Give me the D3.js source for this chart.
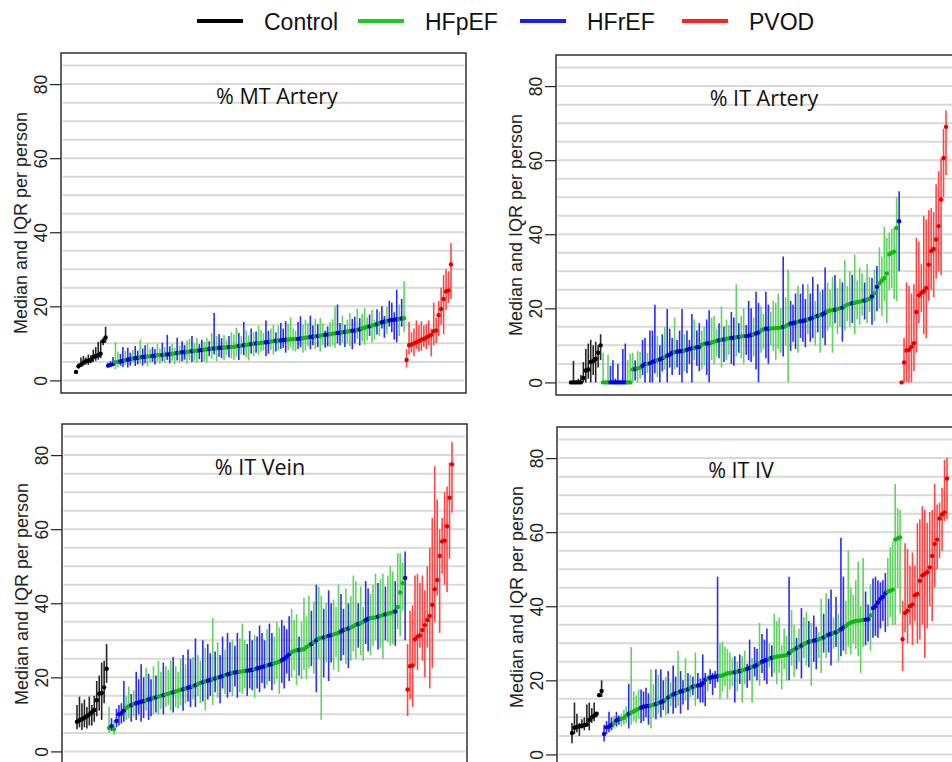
<!DOCTYPE html>
<html>
<head>
<meta charset="utf-8">
<script src="https://cdn.jsdelivr.net/npm/d3@7"></script>
<style>
    body { margin: 0; background: #fff; }
    svg { display: block; }
</style>
</head>
<body>
<div id="chart"></div>
<script>
// group codes: C = Control, p = HFpEF, r = HFrEF, V = PVOD
var groupNames = ["Control", "HFpEF", "HFrEF", "PVOD"];
var groupCodes = ["C", "p", "r", "V"];
var yTicks = [0, 20, 40, 60, 80];

// ---- % MT Artery ----
var mtArteryGroups = "CCCCCCCCCCCCC" + [
    "rrrpprrprr", "prrprrpprr", "pprprrpprp", "rrpprpprrp", "prprprrppr", "ppprprpprp",
    "rppprrpprp", "rrrpppprrp", "pprrprpprr", "ppprrprppr", "rprppprppr", "prrprrrrpr", "p"
].join("") + "VVVVVVVVVVVVVVVVVVV";
var mtArteryMed = [
    2.3, 3.8, 4.2, 4.8, 5.2, 5.3, 5.5, 6.3, 6.6, 6.8, 7.2, 10.6, 11.6,
    4.0, 4.2, 4.4, 4.9, 5.0, 5.1, 5.3, 5.5, 5.6, 5.8,
    5.9, 6.0, 6.1, 6.2, 6.3, 6.4, 6.5, 6.5, 6.6, 6.7,
    6.8, 6.8, 6.9, 7.0, 7.0, 7.1, 7.2, 7.3, 7.4, 7.5,
    7.6, 7.6, 7.7, 7.8, 7.9, 8.0, 8.0, 8.1, 8.2, 8.3,
    8.4, 8.5, 8.6, 8.6, 8.7, 8.8, 8.8, 8.9, 8.9, 9.0,
    9.0, 9.1, 9.2, 9.3, 9.4, 9.5, 9.6, 9.7, 9.8, 9.9,
    10.0, 10.0, 10.1, 10.2, 10.3, 10.4, 10.5, 10.6, 10.7, 10.8,
    10.8, 10.9, 11.0, 11.0, 11.1, 11.1, 11.2, 11.2, 11.3, 11.4,
    11.5, 11.6, 11.7, 11.8, 11.9, 12.0, 12.1, 12.2, 12.3, 12.4,
    12.5, 12.6, 12.7, 12.8, 12.9, 13.0, 13.1, 13.2, 13.3, 13.4,
    13.5, 13.6, 13.8, 14.0, 14.2, 14.4, 14.6, 14.8, 15.0, 15.2,
    15.5, 15.7, 15.9, 16.0, 16.2, 16.3, 16.4, 16.5, 16.6, 16.7,
    16.8,
    5.5, 9.5, 9.7, 10.0, 10.3, 10.6, 11.0, 11.2, 11.6, 12.0, 12.3, 13.3, 13.5, 17.6, 19.3, 22.0, 24.0, 24.3, 31.3
];
var mtArteryQ1 = [
    2.0, 3.2, 3.6, 4.0, 4.3, 4.2, 4.6, 5.0, 5.3, 5.6, 6.0, 9.5, 10.2,
    3.4, 3.8, 3.9, 3.0, 3.5, 4.0, 3.6, 4.2, 3.5, 4.0,
    4.8, 3.9, 4.3, 4.5, 4.0, 4.6, 3.8, 4.8, 5.0, 4.3,
    5.0, 4.5, 5.2, 4.8, 5.5, 4.6, 5.3, 4.4, 5.4, 4.8,
    5.2, 5.6, 4.5, 5.5, 5.0, 5.3, 4.8, 5.7, 5.0, 5.2,
    4.8, 6.5, 5.8, 7.0, 5.2, 6.4, 6.0, 5.5, 6.8, 6.2,
    6.0, 5.6, 6.4, 5.5, 7.0, 6.8, 6.2, 5.4, 7.2, 6.5,
    7.5, 6.8, 7.8, 8.0, 6.5, 7.2, 8.3, 7.0, 7.8, 8.0,
    8.5, 8.8, 7.5, 8.2, 9.0, 8.0, 7.8, 8.5, 9.0, 7.5,
    8.0, 9.2, 8.4, 9.5, 8.5, 9.0, 7.8, 9.5, 8.8, 9.2,
    9.0, 9.4, 8.8, 10.0, 9.5, 10.2, 9.0, 10.0, 9.2, 8.4,
    10.0, 11.2, 9.4, 10.5, 9.6, 10.8, 12.0, 10.2, 11.0, 12.4,
    12.0, 14.0, 11.5, 12.6, 14.5, 13.0, 11.0, 10.3, 12.0, 14.5,
    13.0,
    3.5, 7.0, 7.5, 6.5, 8.5, 7.8, 8.0, 9.0, 8.5, 9.5, 6.5, 9.5, 10.0, 12.0, 15.0, 12.5, 19.0, 21.0, 22.0
];
var mtArteryQ3 = [
    2.8, 4.6, 6.2, 6.6, 6.2, 7.0, 6.8, 8.3, 9.0, 10.4, 10.8, 11.5, 14.5,
    4.8, 5.2, 6.3, 10.4, 7.8, 7.2, 9.0, 8.0, 8.8, 7.5,
    8.2, 9.3, 8.0, 11.0, 8.6, 9.5, 10.0, 8.4, 9.0, 8.5,
    9.8, 8.6, 10.2, 9.0, 12.3, 9.2, 9.8, 8.8, 11.5, 9.4,
    10.6, 9.6, 10.8, 11.3, 12.0, 10.0, 11.5, 9.8, 11.0, 10.4,
    11.5, 10.6, 12.8, 18.2, 12.0, 12.5, 11.4, 12.2, 11.0, 12.0,
    13.0, 12.4, 14.2, 12.8, 12.0, 15.8, 13.5, 12.2, 14.0, 13.0,
    13.2, 14.8, 13.6, 12.8, 16.2, 13.4, 14.0, 15.0, 13.0, 14.8,
    15.5, 14.0, 16.0, 15.2, 17.0, 14.0, 13.5, 15.8, 17.3, 15.0,
    16.4, 15.5, 17.5, 14.8, 16.6, 15.2, 16.8, 15.4, 13.5, 14.6,
    15.8, 16.5, 20.0, 20.5, 15.5, 17.5, 15.0, 16.4, 18.2, 16.6,
    17.2, 19.4, 16.8, 18.0, 19.6, 17.0, 17.8, 19.0, 16.4, 19.2,
    18.6, 20.0, 17.4, 19.8, 21.5, 21.0, 18.4, 24.5, 20.5, 22.0,
    26.8,
    8.5, 15.8, 13.0, 14.0, 16.2, 15.0, 16.0, 14.8, 15.2, 16.2, 14.0, 21.0, 17.0, 21.5, 25.0, 28.5, 30.0, 29.5, 37.0
];

// ---- % IT Artery ----
var itArteryGroups = "CCCCCCCCCCCCC" + [
    "ppprrrrrrr", "ppprpprrpr", "rrprrprrrp", "rrrprrrprr", "pprrppprpr", "pprrprpprr",
    "rprrpprrpp", "ppprpprrrp", "rrrprrprpr", "rppprpprpp", "prpppprppr", "prpppppppp", "r"
].join("") + "VVVVVVVVVVVVVVVVVVV";
var itArteryMed = [
    0, 0, 0, 0, 0, 1.2, 3.2, 3.5, 5.5, 5.8, 6.3, 8.0, 10.0,
    0, 0, 0, 0, 0, 0, 0, 0, 0, 0,
    0, 0, 3.5, 3.6, 3.8, 4.0, 4.5, 5.0, 5.0, 5.2,
    5.5, 5.8, 6.0, 6.2, 6.5, 6.8, 7.2, 7.5, 8.0, 8.2,
    8.3, 8.4, 8.5, 8.6, 8.8, 9.0, 9.2, 9.3, 9.5, 9.6,
    10.2, 10.4, 10.5, 10.6, 10.8, 11.0, 11.2, 11.4, 11.5, 11.6,
    11.8, 11.9, 12.0, 12.1, 12.2, 12.3, 12.4, 12.5, 12.5, 12.6,
    12.8, 13.0, 13.2, 13.5, 14.0, 14.3, 14.5, 14.5, 14.6, 14.6,
    14.7, 14.7, 14.8, 15.0, 15.2, 15.6, 15.9, 16.0, 16.2, 16.4,
    16.5, 16.6, 16.8, 17.0, 17.2, 17.5, 17.8, 18.0, 18.2, 18.4,
    18.8, 19.2, 19.4, 19.5, 19.6, 19.8, 20.0, 20.2, 20.6, 21.0,
    21.2, 21.4, 21.5, 21.7, 21.8, 22.0, 22.1, 22.3, 22.6, 23.2,
    24.1, 25.8, 26.8, 27.5, 28.2, 29.4, 34.6, 35.0, 35.3, 41.7,
    43.5,
    0, 5.4, 8.6, 8.8, 9.6, 10.6, 19.0, 23.5, 24.2, 24.6, 25.5, 31.8, 35.5, 36.0, 38.6, 42.2, 49.4, 60.6, 69.0
];
var itArteryQ1 = [
    0, 0, 0, 0, 0, 0, 0, 1.0, 0, 2.0, 0, 4.0, 6.0,
    0, 0, 0, 0, 0, 0, 0, 0, 0, 0,
    0, 0, 0, 0.5, 0, 1.0, 2.0, 0, 2.5, 0,
    0, 2.5, 1.5, 0, 3.0, 3.5, 0, 4.0, 2.0, 3.5,
    4.0, 2.0, 0, 3.0, 2.5, 5.0, 0, 6.0, 4.5, 3.0,
    3.5, 4.5, 2.0, 0, 6.0, 5.0, 7.0, 6.5, 4.0, 5.5,
    6.0, 7.5, 5.0, 4.5, 7.0, 8.0, 6.5, 5.0, 7.5, 6.0,
    5.5, 7.0, 3.5, 0, 8.0, 9.0, 6.5, 5.0, 10.0, 8.5,
    6.0, 9.0, 8.0, 7.0, 10.0, 0, 8.5, 11.0, 9.0, 8.0,
    12.0, 11.0, 9.5, 13.0, 11.0, 12.0, 10.0, 13.5, 8.0, 12.0,
    10.0, 14.0, 15.0, 8.0, 16.0, 13.0, 15.0, 11.0, 14.0, 16.5,
    15.0, 16.0, 13.0, 17.0, 15.5, 18.0, 17.0, 16.0, 19.0, 15.6,
    16.5, 19.2, 20.0, 18.0, 22.0, 16.0, 25.0, 25.5, 22.5, 22.0,
    30.0,
    0, 0, 0, 0, 0, 3.0, 8.0, 16.0, 19.0, 13.0, 12.0, 22.0, 25.0, 23.0, 28.0, 30.0, 29.0, 50.0, 56.0
];
var itArteryQ3 = [
    0, 5.8, 0.5, 1.0, 2.0, 5.5, 9.0, 10.5, 11.5, 10.0, 11.0, 10.0, 13.0,
    8.0, 0.5, 7.5, 4.5, 6.0, 1.0, 5.0, 0.5, 9.0, 10.5,
    6.0, 7.8, 8.0, 6.0, 8.5, 8.2, 11.5, 12.0, 8.0, 14.0,
    14.0, 21.0, 12.5, 10.0, 13.0, 15.0, 19.8, 14.5, 12.0, 17.5,
    11.5, 14.0, 19.8, 13.0, 14.0, 11.5, 18.5, 17.0, 14.0, 16.0,
    14.0, 15.0, 17.0, 19.5, 17.5, 18.0, 14.5, 16.0, 20.5, 15.0,
    17.0, 15.5, 19.0, 17.5, 26.5, 16.0, 18.0, 20.0, 15.5, 22.0,
    20.0, 17.5, 24.5, 21.5, 20.5, 18.5, 24.5, 21.0, 19.0, 22.0,
    21.5, 24.0, 20.0, 34.0, 23.0, 30.5, 22.0, 21.0, 24.0, 26.0,
    24.0, 26.5, 22.5, 26.5, 24.0, 28.5, 22.0, 26.5, 24.5, 25.0,
    31.0, 27.0, 25.0, 28.5, 29.0, 25.5, 28.0, 27.0, 33.0, 26.0,
    30.0, 29.0, 34.5, 27.5, 31.0, 29.5, 27.0, 32.0, 28.5, 28.2,
    30.5, 31.4, 36.5, 34.0, 42.0, 39.0, 40.5, 41.5, 42.0, 50.0,
    51.6,
    0, 12.0, 27.0, 26.0, 24.0, 26.5, 39.0, 38.0, 32.0, 45.0, 44.0, 46.5, 47.0, 46.0, 53.5, 57.0, 60.5, 68.5, 73.5
];

// ---- % IT Vein ----
var itVeinGroups = "CCCCCCCCCCCCC" + [
    "prprrrrppr", "prrrrprrpr", "pprppprppp", "rprrprpprp", "rrprprrprr", "prrppprrrp",
    "rrrrprrppp", "rrrrppprpp", "pprprpprpr", "rppprrprpp", "prpprrpppr", "pprppprppp", "r"
].join("") + "VVVVVVVVVVVVVVVVVVV";
var itVeinMed = [
    8.0, 8.4, 8.7, 9.1, 9.5, 10.0, 10.5, 11.2, 13.8, 15.6, 15.8, 17.3, 22.3,
    6.3, 6.8, 6.0, 8.2, 10.0, 10.3, 11.0, 11.8, 12.2, 12.5,
    12.8, 13.0, 13.2, 13.4, 13.6, 13.8, 14.0, 14.2, 14.4, 14.6,
    14.8, 15.0, 15.2, 15.4, 15.6, 15.8, 16.0, 16.2, 16.4, 16.6,
    16.8, 17.0, 17.2, 17.4, 17.6, 17.9, 18.2, 18.5, 18.7, 18.9,
    19.1, 19.3, 19.5, 19.7, 19.9, 20.1, 20.4, 20.6, 20.8, 21.0,
    21.2, 21.3, 21.4, 21.5, 21.6, 21.7, 21.8, 21.9, 22.0, 22.2,
    22.4, 22.6, 22.8, 23.0, 23.2, 23.4, 23.6, 23.8, 24.0, 24.2,
    24.6, 25.0, 25.6, 26.2, 26.8, 27.1, 27.3, 27.4, 27.5, 27.6,
    28.2, 28.6, 29.0, 29.5, 30.0, 30.4, 30.6, 30.8, 31.0, 31.2,
    31.4, 31.6, 31.8, 32.0, 32.4, 32.8, 33.0, 33.2, 33.5, 33.8,
    34.2, 34.4, 34.6, 35.0, 35.4, 35.8, 36.0, 36.1, 36.2, 36.4,
    36.6, 36.8, 37.0, 37.2, 37.4, 37.6, 37.8, 39.0, 42.9, 45.4,
    46.8,
    16.7, 23.0, 23.2, 30.3, 31.0, 31.3, 32.8, 34.1, 35.5, 36.6, 39.6, 43.8, 46.3, 52.8, 56.7, 56.9, 60.8, 68.5, 77.5
];
var itVeinQ1 = [
    6.0, 6.5, 5.8, 6.5, 6.2, 7.0, 7.0, 8.0, 9.5, 11.0, 8.5, 13.0, 18.5,
    5.0, 5.5, 4.5, 6.5, 7.0, 7.5, 8.0, 8.5, 9.0, 8.0,
    9.5, 8.5, 10.0, 8.0, 9.0, 11.0, 8.5, 9.5, 10.0, 10.5,
    10.0, 11.5, 10.0, 12.0, 12.5, 11.0, 10.5, 12.0, 11.5, 12.5,
    11.0, 13.0, 13.5, 12.0, 14.0, 12.0, 15.0, 13.0, 13.5, 11.0,
    14.0, 15.0, 12.5, 16.0, 14.5, 13.0, 17.0, 15.5, 14.5, 16.0,
    15.0, 17.5, 14.5, 16.0, 15.5, 17.0, 15.0, 17.0, 16.5, 14.5,
    17.0, 16.0, 18.5, 17.0, 18.0, 19.0, 16.5, 18.0, 19.5, 15.5,
    18.5, 17.0, 21.0, 19.0, 20.0, 22.0, 18.0, 20.5, 19.5, 22.0,
    19.5, 22.5, 23.0, 21.0, 16.0, 25.0, 8.5, 20.0, 24.0, 19.0,
    24.0, 22.0, 25.5, 21.5, 24.5, 26.0, 23.5, 22.5, 24.5, 27.0,
    25.0, 28.0, 26.0, 24.5, 29.0, 27.0, 26.0, 28.5, 30.0, 27.5,
    28.0, 25.0, 30.0, 29.5, 28.5, 29.0, 28.5, 33.0, 31.0, 38.0,
    30.0,
    9.5, 14.0, 12.0, 23.0, 22.0, 28.0, 24.5, 20.0, 28.0, 17.0, 22.5, 35.0, 42.0, 32.0, 48.0, 45.0, 43.0, 52.0, 64.5
];
var itVeinQ3 = [
    12.5, 14.8, 13.0, 14.0, 12.0, 14.8, 12.5, 15.0, 19.0, 20.5, 24.0, 24.5, 29.0,
    12.0, 9.0, 8.5, 11.5, 12.5, 13.0, 19.0, 15.0, 17.5, 15.5,
    16.5, 21.5, 19.5, 23.5, 20.0, 22.5, 21.0, 19.5, 23.0, 20.5,
    24.5, 21.5, 24.0, 23.0, 22.0, 24.5, 25.5, 23.0, 21.5, 25.0,
    26.0, 23.5, 27.5, 25.0, 25.5, 30.5, 26.0, 24.5, 30.0, 28.0,
    29.0, 26.5, 36.0, 27.0, 29.5, 26.0, 31.0, 27.5, 32.0, 29.5,
    30.0, 28.5, 32.0, 30.5, 34.5, 30.0, 29.0, 32.5, 30.0, 31.5,
    31.0, 34.0, 32.0, 30.0, 33.0, 34.5, 32.0, 31.0, 35.0, 33.5,
    35.5, 34.0, 33.0, 36.5, 38.5, 35.5, 37.0, 31.0, 35.0, 41.5,
    36.5, 42.0, 38.0, 40.5, 45.0, 44.5, 42.0, 38.5, 40.0, 43.5,
    40.0, 41.0, 39.0, 45.0, 42.5, 38.5, 44.0, 40.0, 42.0, 47.5,
    46.0, 40.0, 44.5, 39.0, 46.0, 44.0, 42.5, 45.0, 48.0, 45.5,
    46.5, 48.0, 44.5, 47.5, 50.0, 48.5, 46.0, 53.5, 53.5, 51.0,
    54.0,
    29.0, 38.0, 39.5, 47.5, 48.0, 45.5, 47.5, 43.5, 50.0, 55.0, 63.0, 77.0, 68.0, 60.0, 63.0, 70.0, 71.5, 78.0, 83.5
];

// ---- % IT IV ----
var itIVGroups = "CCCCCCCCCCCCC" + [
    "rrrrprrppp", "rpppprrrrp", "prprrprprr", "prrprprprr", "rrprrrrppp", "ppprprpprr",
    "prrprrrprp", "ppppprpprp", "rpprprrppr", "prrprprrpp", "pppppprrpr", "rrrrrppppp", "p"
].join("") + "VVVVVVVVVVVVVVVVVVV";
var itIVMed = [
    5.8, 7.2, 7.4, 7.6, 7.7, 7.9, 8.1, 9.3, 10.0, 10.5, 11.0, 16.0, 17.1,
    5.5, 7.3, 7.5, 8.0, 8.5, 9.2, 9.5, 9.6, 9.8, 10.5,
    11.0, 11.3, 11.6, 12.0, 12.3, 12.6, 12.9, 13.0, 13.1, 13.2,
    13.4, 13.6, 13.9, 14.1, 14.4, 14.8, 15.4, 15.8, 16.2, 16.5,
    16.7, 17.0, 17.2, 17.4, 17.6, 18.0, 18.3, 18.5, 18.6, 18.7,
    19.2, 20.2, 20.5, 20.7, 20.9, 21.0, 21.1, 21.2, 21.3, 21.6,
    21.9, 22.0, 22.1, 22.2, 22.3, 22.5, 22.7, 22.9, 23.1, 23.4,
    23.6, 23.8, 24.2, 24.6, 25.0, 25.3, 25.6, 25.9, 26.1, 26.3,
    26.4, 26.5, 26.6, 26.7, 26.8, 27.4, 27.9, 28.3, 28.7, 29.0,
    29.4, 29.8, 30.1, 30.4, 30.6, 30.7, 30.9, 31.1, 31.3, 31.6,
    32.0, 32.3, 32.6, 32.8, 33.0, 33.3, 33.8, 34.3, 34.7, 35.2,
    35.6, 35.8, 36.0, 36.1, 36.2, 36.3, 36.4, 36.5, 37.5, 39.5,
    40.0, 41.0, 42.0, 42.5, 43.5, 44.0, 44.2, 44.5, 58.0, 58.3,
    58.6,
    31.1, 38.2, 38.8, 40.0, 40.5, 43.0, 43.3, 46.9, 48.3, 48.8, 49.2, 50.5, 53.6, 56.8, 58.0, 63.7, 64.8, 65.3, 74.5
];
var itIVQ1 = [
    3.0, 5.5, 6.0, 5.0, 7.0, 6.5, 7.5, 6.5, 8.5, 9.0, 10.0, 15.5, 15.5,
    3.5, 5.5, 6.0, 6.5, 7.0, 7.5, 8.0, 7.5, 8.0, 8.5,
    7.0, 8.0, 9.0, 8.5, 9.5, 8.5, 9.0, 10.0, 8.0, 7.0,
    10.0, 9.5, 11.0, 10.0, 12.0, 10.5, 11.0, 13.0, 11.0, 12.5,
    13.0, 11.0, 13.5, 14.5, 12.0, 15.5, 16.0, 13.0, 15.0, 14.0,
    14.0, 13.0, 17.0, 19.0, 16.0, 18.0, 19.5, 15.0, 17.0, 18.5,
    15.0, 17.5, 18.5, 14.0, 17.0, 19.0, 14.0, 19.0, 18.0, 20.0,
    14.0, 21.0, 20.0, 18.5, 22.0, 20.0, 19.0, 23.5, 21.0, 22.0,
    19.0, 22.0, 17.5, 23.0, 20.0, 20.0, 24.0, 21.0, 23.0, 25.0,
    20.5, 26.0, 24.0, 23.5, 18.5, 25.0, 23.0, 26.0, 22.0, 27.5,
    26.0, 27.5, 24.0, 28.5, 29.0, 25.0, 26.5, 28.0, 27.0, 29.0,
    27.0, 30.0, 28.5, 26.5, 22.0, 29.0, 29.5, 30.5, 28.0, 31.5,
    32.0, 31.5, 34.0, 36.0, 33.0, 34.5, 37.0, 35.0, 35.0, 45.0,
    38.0,
    22.5, 33.0, 30.0, 35.0, 29.5, 36.0, 30.0, 31.0, 35.0, 26.0, 34.0, 40.0, 36.0, 45.0, 50.0, 53.0, 55.0, 63.0, 63.5
];
var itIVQ3 = [
    8.5, 14.0, 11.0, 8.5, 9.5, 10.0, 13.5, 14.0, 12.5, 14.0, 11.5, 16.5, 20.0,
    8.0, 9.0, 11.5, 10.0, 10.5, 11.5, 10.5, 11.0, 12.0, 13.0,
    19.0, 29.0, 17.0, 16.0, 17.5, 17.5, 17.0, 18.0, 16.5, 23.0,
    19.0, 23.0, 21.5, 23.0, 20.0, 21.0, 22.5, 19.5, 24.0, 21.0,
    28.0, 22.5, 20.0, 26.0, 22.0, 21.5, 21.0, 27.5, 22.0, 20.5,
    27.0, 22.0, 21.5, 23.0, 22.0, 22.5, 48.0, 30.0, 30.5, 29.0,
    28.5, 27.5, 26.0, 26.5, 25.0, 27.0, 26.5, 28.0, 24.5, 31.0,
    26.0, 29.0, 28.5, 35.5, 32.5, 31.0, 34.0, 30.0, 29.5, 38.0,
    36.0, 37.0, 29.5, 34.0, 32.0, 48.0, 39.0, 35.0, 31.5, 34.0,
    39.5, 37.0, 38.5, 36.0, 35.5, 37.5, 34.5, 33.0, 42.0, 38.0,
    43.5, 42.0, 44.5, 37.0, 42.5, 38.0, 58.5, 48.0, 41.5, 55.0,
    45.0, 43.0, 47.0, 52.0, 40.0, 53.0, 44.0, 40.5, 46.0, 47.5,
    48.0, 47.0, 46.5, 47.0, 49.0, 53.0, 56.0, 57.5, 73.0, 66.5,
    66.0,
    41.5, 57.0, 55.5, 51.0, 54.5, 51.0, 62.5, 63.5, 67.0, 66.0, 62.5, 65.5, 66.0, 73.0, 67.5, 68.0, 72.0, 79.5, 80.0
];

var panels = [
    { title: "% MT Artery", groups: mtArteryGroups, med: mtArteryMed, q1: mtArteryQ1, q3: mtArteryQ3 },
    { title: "% IT Artery", groups: itArteryGroups, med: itArteryMed, q1: itArteryQ1, q3: itArteryQ3 },
    { title: "% IT Vein",   groups: itVeinGroups,   med: itVeinMed,   q1: itVeinQ1,   q3: itVeinQ3 },
    { title: "% IT IV",     groups: itIVGroups,     med: itIVMed,     q1: itIVQ1,     q3: itIVQ3 }
];

// layout of the four plot boxes (the right and bottom ones run off the page)
var boxes = [
    { left: 61,  top: 53,  titleX: 216 },
    { left: 556, top: 55,  titleX: 208 },
    { left: 62,  top: 424, titleX: 198 },
    { left: 557, top: 427, titleX: 184 }
];
var boxW = 405, boxH = 340;

var lineColor  = { C: "#000000", p: "#22c822", r: "#1a1aff", V: "#ff2020" };
var barColor   = { C: "#262626", p: "#5fd35f", r: "#2b2bf5", V: "#ff4646" };
var pointColor = { C: "#000000", p: "#12b812", r: "#0000e0", V: "#e60000" };

var svg = d3.select("#chart").append("svg")
    .attr("width", 952)
    .attr("height", 762)
    .style("font-family", "'Liberation Sans', Arial, sans-serif");

// legend
var legendX = [197, 358, 520, 682];
var legend = svg.append("g").attr("class", "legend");
groupCodes.forEach(function (code, i) {
    var g = legend.append("g").attr("transform", "translate(" + legendX[i] + ",21)");
    g.append("line")
        .attr("x1", 0).attr("x2", 46)
        .attr("stroke", lineColor[code])
        .attr("stroke-width", 4);
    g.append("text")
        .attr("x", 67)
        .attr("y", 8.5)
        .style("font-size", "23px")
        .attr("fill", "#111")
        .text(groupNames[i]);
});

panels.forEach(function (p, k) {
    var n = p.med.length;
    if (p.q1.length !== n || p.q3.length !== n || p.groups.length !== n) {
        console.warn("length mismatch in", p.title, n, p.q1.length, p.q3.length, p.groups.length);
    }
    var b = boxes[k];

    // R-style 4% padding on both axes
    var x = d3.scaleLinear()
        .domain([-0.04 * (n - 1), (n - 1) * 1.04])
        .range([0, boxW]);
    var y = d3.scaleLinear()
        .domain([-3.4, 88.4])
        .range([boxH, 0]);

    var g = svg.append("g").attr("transform", "translate(" + b.left + "," + b.top + ")");

    // horizontal grid every 5
    g.append("g").selectAll("line")
        .data(d3.range(0, 90, 5))
        .enter().append("line")
        .attr("x1", 1.5).attr("x2", boxW - 1.5)
        .attr("y1", function (d) { return y(d); })
        .attr("y2", function (d) { return y(d); })
        .attr("stroke", "#d9d9d9")
        .attr("stroke-width", 2);

    var rows = d3.range(n).map(function (i) {
        return { i: i, g: p.groups[i] || "p", med: p.med[i], q1: p.q1[i], q3: p.q3[i] };
    });

    // IQR bars
    g.append("g").selectAll("line")
        .data(rows)
        .enter().append("line")
        .attr("x1", function (d) { return x(d.i); })
        .attr("x2", function (d) { return x(d.i); })
        .attr("y1", function (d) { return y(d.q1); })
        .attr("y2", function (d) { return y(d.q3); })
        .attr("stroke", function (d) { return barColor[d.g]; })
        .attr("stroke-width", 1.6);

    // medians
    g.append("g").selectAll("circle")
        .data(rows)
        .enter().append("circle")
        .attr("cx", function (d) { return x(d.i); })
        .attr("cy", function (d) { return y(d.med); })
        .attr("r", 2.2)
        .attr("fill", function (d) { return pointColor[d.g]; });

    // box
    g.append("rect")
        .attr("width", boxW).attr("height", boxH)
        .attr("fill", "none")
        .attr("stroke", "#222")
        .attr("stroke-width", 1.4);

    // y axis with rotated labels
    var axis = g.append("g")
        .call(d3.axisLeft(y).tickValues(yTicks).tickSize(11).tickFormat(d3.format("d")));
    axis.select(".domain").remove();
    axis.selectAll(".tick line").attr("stroke", "#222").attr("stroke-width", 1.2);
    axis.selectAll(".tick text")
        .attr("transform", "rotate(-90)")
        .attr("x", 0)
        .attr("y", -20)
        .attr("dy", "0.36em")
        .attr("text-anchor", "middle")
        .attr("fill", "#222")
        .style("font-size", "17.5px")
        .style("font-family", "'Liberation Sans', Arial, sans-serif");

    g.append("text")
        .attr("transform", "translate(-40," + (boxH / 2) + ")rotate(-90)")
        .attr("text-anchor", "middle")
        .attr("dy", "0.36em")
        .style("font-size", "18px")
        .attr("fill", "#222")
        .text("Median and IQR per person");

    g.append("text")
        .attr("x", b.titleX)
        .attr("y", 43)
        .attr("dy", "0.36em")
        .attr("text-anchor", "middle")
        .style("font-family", "'Open Sans', 'Noto Sans', sans-serif")
        .style("font-size", "21.5px")
        .attr("fill", "#111")
        .text(p.title);
});
</script>
</body>
</html>
